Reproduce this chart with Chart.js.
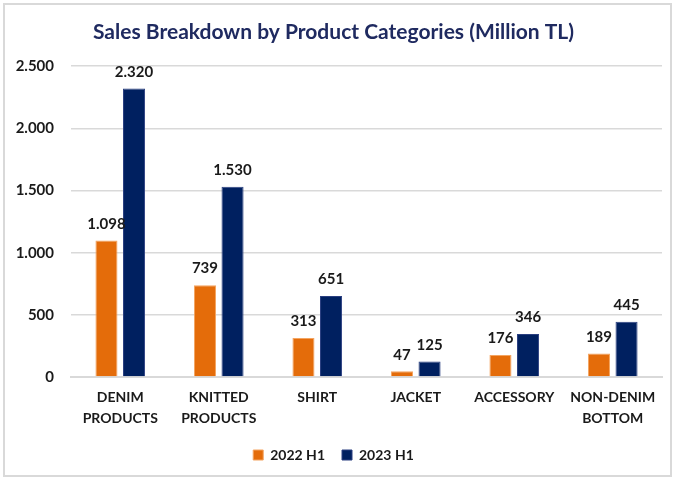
<!DOCTYPE html>
<html>
<head>
<meta charset="utf-8">
<script src="https://cdn.jsdelivr.net/npm/chart.js@4.4.0/dist/chart.umd.min.js"></script>
<style>
  body { margin: 0; background: #ffffff; }
  .chart-box {
    position: absolute; left: 3px; top: 3px;
    width: 665px; height: 470px;
    border: 2px solid #d9d9d9; background: #ffffff;
  }
</style>
</head>
<body>
<div class="chart-box"><canvas id="barChart" width="665" height="470"></canvas></div>
<script>
const categories = [['DENIM', 'PRODUCTS'], ['KNITTED', 'PRODUCTS'], 'SHIRT', 'JACKET', 'ACCESSORY', ['NON-DENIM', 'BOTTOM']];
const sales2022 = [1098, 739, 313, 47, 176, 189];
const sales2023 = [2320, 1530, 651, 125, 346, 445];
const yTicks = [0, 500, 1000, 1500, 2000, 2500];

const fontFamily = 'Lato, "Open Sans", sans-serif';

function formatTL(v) {
    return v.toString().replace(/\B(?=(\d{3})+(?!\d))/g, '.');
}

// draws value labels above each bar
const valueLabels = {
    id: 'valueLabels',
    afterDatasetsDraw(chart) {
        const ctx = chart.ctx;
        ctx.save();
        ctx.font = 'bold 15px ' + fontFamily;
        ctx.fillStyle = '#1a1a1a';
        ctx.textAlign = 'center';
        ctx.textBaseline = 'bottom';
        chart.data.datasets.forEach((ds, i) => {
            chart.getDatasetMeta(i).data.forEach((bar, j) => {
                ctx.fillText(formatTL(ds.data[j]), bar.x, bar.y - 9);
            });
        });
        ctx.restore();
    }
};

const ctx = document.getElementById('barChart').getContext('2d');
new Chart(ctx, {
    type: 'bar',
    data: {
        labels: categories,
        datasets: [
            { label: '2022 H1', data: sales2022, backgroundColor: '#e46c0a', borderColor: '#f4a460', borderWidth: 1 },
            { label: '2023 H1', data: sales2023, backgroundColor: '#002060', borderColor: '#2a3f80', borderWidth: 1 }
        ]
    },
    options: {
        responsive: false,
        animation: false,
        layout: { padding: { left: 0, right: 8, top: 0, bottom: 3 } },
        datasets: { bar: { categoryPercentage: 0.56, barPercentage: 0.8 } },
        plugins: {
            title: {
                display: true,
                text: 'Sales Breakdown by Product Categories (Million TL)',
                color: '#1f2a60',
                font: { family: fontFamily, size: 21, weight: 'bold' },
                padding: { top: 15, bottom: 21 }
            },
            legend: {
                position: 'bottom',
                labels: {
                    color: '#1a1a1a',
                    font: { family: fontFamily, size: 14, weight: 'bold' },
                    boxWidth: 10, boxHeight: 10, padding: 17
                }
            },
            tooltip: { enabled: false }
        },
        scales: {
            y: {
                min: 0, max: 2500,
                afterBuildTicks: axis => { axis.ticks = yTicks.map(v => ({ value: v })); },
                afterFit: axis => { axis.width = 66; },
                border: { display: false },
                grid: { color: '#d9d9d9', lineWidth: 1.5, drawTicks: false },
                ticks: {
                    padding: 17,
                    color: '#1a1a1a',
                    font: { family: fontFamily, size: 15, weight: 'bold' },
                    callback: v => formatTL(v)
                }
            },
            x: {
                border: { color: '#d9d9d9', width: 2 },
                grid: { display: false },
                ticks: {
                    padding: 2,
                    color: '#1a1a1a',
                    maxRotation: 0,
                    font: { family: fontFamily, size: 14, weight: 'bold', lineHeight: 1.5 }
                }
            }
        }
    },
    plugins: [valueLabels]
});
</script>
</body>
</html>
